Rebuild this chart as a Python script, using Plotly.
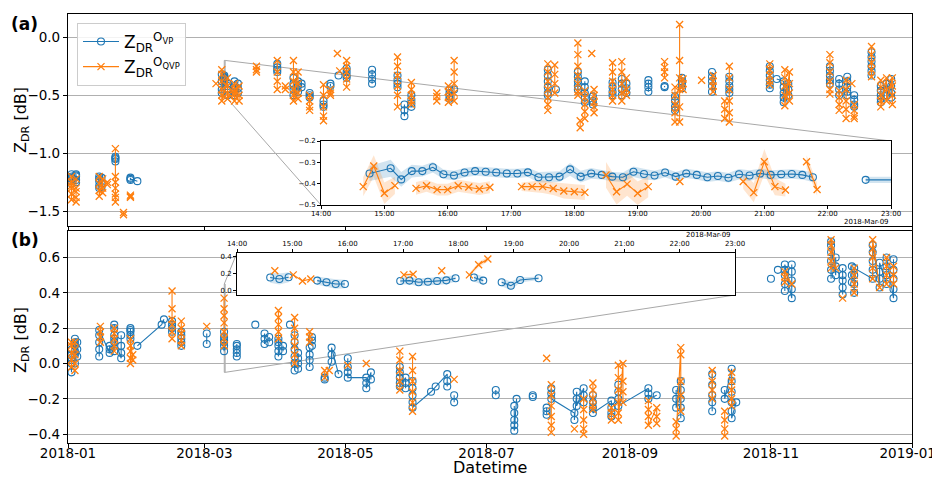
import pandas as pd
import plotly.graph_objects as go

# page body has an 8px margin: the figure is sized/placed so it fills the 940x477 window
PAGE_W, PAGE_H, OFF = 940, 477, 8
W, H = PAGE_W - OFF, PAGE_H - OFF
BLUE = "#1f77b4"
ORANGE = "#ff7f0e"
FONT = "DejaVu Sans"
YEAR0 = "2018-01-01"

# x tick labels of the main panels
month_tick_dates = ["2018-01-01", "2018-03-01", "2018-05-01", "2018-07-01", "2018-09-01",
                    "2018-11-01", "2019-01-01"]
month_tick_labels = ["2018-01", "2018-03", "2018-05", "2018-07", "2018-09", "2018-11", "2019-01"]

# ---------------- panel (a): day-of-year clusters ----------------
a_ovp_doy = [1.5, 3.5, 13.5, 14.5, 20.5, 27, 30, 66.5, 67.6, 69, 72, 73.5, 90.5, 97.5, 99.5, 101,
             104.5, 110.5, 113.5, 117, 120.5, 131.5, 142.5, 145.5, 148.5, 165, 167, 207.5, 211,
             220.5, 223.5, 227, 235.5, 239.5, 241.5, 251, 258, 262.5, 265.5, 278.5, 286, 303.5,
             306.5, 309.5, 311.5, 329.5, 333.5, 337, 340, 347.5, 351.5, 354, 356]
a_ovp_val = [[-1.18, -1.21, -1.24, -1.2, -1.26, -1.22], [-1.19, -1.23, -1.25, -1.2, -1.18],
             [-1.2, -1.24, -1.28, -1.3, -1.22], [-1.21, -1.26, -1.29], [-1.03, -1.05, -1.07, -1.04],
             [-1.21, -1.23, -1.22], [-1.24], [-0.32, -0.38, -0.45, -0.48],
             [-0.35, -0.33, -0.38, -0.34, -0.36, -0.35, -0.37], [-0.4, -0.45, -0.5, -0.42],
             [-0.38, -0.42, -0.47, -0.5, -0.45], [-0.4, -0.44, -0.48], [-0.23, -0.26, -0.3, -0.28],
             [-0.35, -0.4, -0.45, -0.5, -0.42], [-0.38, -0.42, -0.47], [-0.4, -0.43],
             [-0.48, -0.5, -0.52], [-0.55, -0.58, -0.6], [-0.4, -0.42], [-0.33],
             [-0.27, -0.3, -0.33, -0.35], [-0.28, -0.32, -0.36, -0.4], [-0.33, -0.37, -0.4, -0.43],
             [-0.58, -0.63, -0.68], [-0.5, -0.54, -0.57, -0.6], [-0.45, -0.48, -0.51, -0.53], [-0.45],
             [-0.28, -0.33, -0.38, -0.43, -0.48, -0.5], [-0.45], [-0.3, -0.34, -0.38, -0.42, -0.45],
             [-0.38, -0.43, -0.48, -0.52, -0.56], [-0.51, -0.55, -0.58], [-0.39, -0.43, -0.47, -0.5],
             [-0.36, -0.4, -0.45, -0.5], [-0.4, -0.44, -0.48], [-0.37, -0.4, -0.43, -0.47],
             [-0.43, -0.42], [-0.51, -0.55, -0.6, -0.63], [-0.35, -0.38, -0.4, -0.44],
             [-0.3, -0.34, -0.38, -0.42, -0.47], [-0.34, -0.38, -0.42, -0.45, -0.48],
             [-0.25, -0.29, -0.33, -0.37, -0.41, -0.44], [-0.36], [-0.38, -0.43, -0.48, -0.52, -0.56],
             [-0.4, -0.45, -0.5], [-0.25, -0.29, -0.33, -0.37, -0.4], [-0.36, -0.4, -0.45, -0.5],
             [-0.34, -0.38, -0.43, -0.47, -0.5], [-0.5, -0.54, -0.58, -0.6],
             [-0.13, -0.17, -0.21, -0.25, -0.29, -0.33], [-0.42, -0.46, -0.5, -0.53, -0.56],
             [-0.4, -0.45, -0.5], [-0.36, -0.42, -0.48, -0.52]]
a_ovp_join = [14.5, 30, 67.6, 69, 73.5, 99.5, 101, 309.5, 311.5, 354, 356]

a_oqvp_doy = [1.5, 3.5, 13.5, 15, 17, 20.5, 24, 27, 64, 66.5, 69, 72, 74, 81.5, 90.5, 94, 97.5, 99.5,
              104.5, 110.5, 113.5, 116.5, 117.5, 120.5, 142.5, 148.5, 159.5, 164.5, 167, 207.5,
              210.5, 220.5, 221.5, 223.5, 226.5, 227.5, 235.5, 239.5, 241.5, 258, 262.5, 264.5, 266,
              274, 279, 284, 286, 303.5, 310, 312, 329.5, 333.5, 336.5, 339, 340, 347.5, 351.5,
              354, 356.5]
a_oqvp_val = [[-1.2, -1.25, -1.3, -1.35, -1.4, -1.28], [-1.22, -1.3, -1.38, -1.42, -1.33],
              [-1.2, -1.26, -1.32, -1.37], [-1.22, -1.3, -1.34], [-1.25, -1.27],
              [-0.96, -1.2, -1.25, -1.3, -1.35, -1.42, -1.38], [-1.51, -1.53], [-1.36, -1.38, -1.37],
              [-0.4], [-0.28, -0.32, -0.38, -0.45, -0.5, -0.55], [-0.35, -0.42, -0.48, -0.53],
              [-0.4, -0.45, -0.5, -0.55, -0.48], [-0.42, -0.5, -0.55], [-0.25, -0.28, -0.3],
              [-0.2, -0.3, -0.38, -0.45], [-0.45, -0.42], [-0.2, -0.3, -0.38, -0.45, -0.5, -0.55],
              [-0.3, -0.4, -0.48, -0.53], [-0.5, -0.55, -0.6, -0.63], [-0.41, -0.5, -0.6, -0.68, -0.72],
              [-0.45, -0.48, -0.5], [-0.14], [-0.29], [-0.2, -0.25, -0.3, -0.36, -0.43],
              [-0.17, -0.25, -0.33, -0.42, -0.5, -0.6], [-0.39, -0.45, -0.5, -0.55, -0.58],
              [-0.48, -0.51, -0.55], [-0.42, -0.47, -0.52, -0.56], [-0.2, -0.3, -0.4, -0.48, -0.55],
              [-0.23, -0.3, -0.38, -0.45, -0.52, -0.58, -0.63], [-0.24, -0.32, -0.4, -0.48],
              [-0.05, -0.15, -0.25, -0.33, -0.4, -0.47, -0.5], [-0.72, -0.78],
              [-0.46, -0.52, -0.58, -0.64, -0.7], [-0.14], [-0.45, -0.5, -0.56, -0.6, -0.65],
              [-0.22, -0.3, -0.38, -0.45, -0.5, -0.55], [-0.21, -0.3, -0.4, -0.48, -0.55],
              [-0.35, -0.45, -0.5], [-0.21, -0.26, -0.3, -0.35], [-0.43, -0.5, -0.58, -0.65, -0.73],
              [0.11, -0.2, -0.35, -0.45, -0.6, -0.73], [-0.36, -0.4, -0.45], [-0.37],
              [-0.33, -0.38, -0.42, -0.47], [-0.55, -0.62, -0.7], [-0.25, -0.35, -0.45, -0.55, -0.65, -0.73],
              [-0.23, -0.28, -0.33, -0.38, -0.41], [-0.28, -0.35, -0.42, -0.5, -0.59],
              [-0.3, -0.4, -0.48, -0.55], [-0.15, -0.22, -0.3, -0.38, -0.45, -0.49],
              [-0.46, -0.52, -0.58, -0.63], [-0.37, -0.45, -0.55, -0.62, -0.7], [-0.4],
              [-0.58, -0.63, -0.68, -0.7], [-0.08, -0.15, -0.22, -0.28, -0.34],
              [-0.37, -0.43, -0.5, -0.55, -0.6], [-0.35, -0.45, -0.55], [-0.35, -0.42, -0.5, -0.58]]
a_oqvp_join = [15, 69, 72, 74, 99.5, 312, 354, 356.5]

# ---------------- panel (b): day-of-year clusters ----------------
b_ovp_doy = [1.5, 3, 4, 13.5, 18, 20, 23, 27, 30, 40.5, 41.5, 45, 49, 60, 67.5, 73, 81, 85, 87, 91,
             93, 96, 98, 99.5, 104.5, 105.5, 111, 114, 117, 121, 129, 131, 143.5, 146, 149, 157, 159,
             164, 167, 185, 193, 194, 201, 207, 209, 219, 220, 223, 227, 235, 238, 251, 254.6, 263,
             265, 278.6, 284, 287, 289, 304, 307, 310, 313, 330, 332, 335, 339, 340, 348, 351, 354,
             357]
b_ovp_val = [[-0.05, 0.0, 0.05, 0.02, 0.08, 0.03], [0.0, 0.05, 0.1, 0.14, 0.07, 0.12], [0.04, 0.08, 0.12],
             [0.04, 0.08, 0.12, 0.16, 0.19], [0.06, 0.08, 0.1], [0.07, 0.12, 0.16, 0.2, 0.22, 0.14],
             [0.03, 0.06, 0.1, 0.16], [0.14, 0.16, 0.18, 0.2, 0.19], [0.1], [0.22], [0.25],
             [0.18, 0.2, 0.22, 0.24], [0.1, 0.12, 0.14, 0.16, 0.18], [0.11, 0.17],
             [0.07, 0.1, 0.13, 0.15, 0.18, 0.12], [0.04, 0.06, 0.08, 0.1, 0.11], [0.22],
             [0.11, 0.14, 0.17], [0.12, 0.15], [0.04, 0.07, 0.1, 0.12, 0.14], [0.1, 0.07], [0.22],
             [-0.04, 0.0, 0.04, 0.08, 0.12, 0.16], [-0.03, 0.0, 0.03, 0.06], [-0.02, 0.02, 0.05, 0.09],
             [0.1, 0.13, 0.15], [-0.08, -0.09], [0.01, 0.05, 0.09], [-0.06], [0.03, -0.02, -0.05, -0.08],
             [-0.08, -0.11, -0.14], [-0.05, -0.09], [-0.02, -0.05, -0.08, -0.11, -0.13],
             [-0.08, -0.11, -0.14], [-0.1, -0.14, -0.18, -0.22, -0.25], [-0.16], [-0.13],
             [-0.06, -0.1, -0.13], [-0.18, -0.22], [-0.15, -0.18], [-0.24, -0.28, -0.32, -0.35, -0.38],
             [-0.2], [-0.18, -0.19], [-0.25, -0.27, -0.29], [-0.14, -0.17, -0.2], [-0.28, -0.32],
             [-0.16, -0.2, -0.24], [-0.14, -0.18, -0.22], [-0.18, -0.22, -0.25, -0.28],
             [-0.21, -0.25, -0.28, -0.3], [-0.12, -0.16, -0.2, -0.24], [-0.14, -0.17, -0.2], [-0.18],
             [-0.15, -0.2, -0.25], [-0.1, -0.15, -0.2, -0.25, -0.31], [-0.06, -0.12, -0.18, -0.22, -0.27],
             [-0.15, -0.2], [-0.03, -0.1, -0.16, -0.22, -0.27, -0.31], [-0.22], [0.48], [0.53],
             [0.41, 0.45, 0.5, 0.53, 0.56], [0.37, 0.42, 0.47, 0.52, 0.56],
             [0.48, 0.53, 0.58, 0.63, 0.67, 0.69], [0.5, 0.55, 0.6], [0.39, 0.43, 0.47, 0.5, 0.54],
             [0.46, 0.5, 0.55], [0.4, 0.45, 0.5, 0.54], [0.48, 0.53, 0.58, 0.63, 0.67],
             [0.43, 0.48, 0.52, 0.57], [0.45, 0.5, 0.55, 0.6], [0.37, 0.42, 0.48, 0.53, 0.59]]
b_ovp_join = [4, 18, 20, 23, 40.5, 41.5, 114, 117, 129, 131, 146, 157, 159, 164, 194, 219, 220, 223,
              235, 251, 254.6, 265, 287, 289, 313, 332, 348, 351, 354, 357]

b_oqvp_doy = [1.5, 3, 14, 20, 27, 28, 45, 49, 60, 67.5, 91, 98, 104.5, 111, 113, 121, 129, 143.5, 149,
              167, 207, 209, 219, 223, 227, 235, 238, 240, 251, 254.6, 263, 265, 278.6, 284, 287, 310,
              313, 330, 332, 335, 340, 348, 351, 354, 357]
b_oqvp_val = [[-0.02, 0.02, 0.06, 0.1, 0.12], [-0.04, 0.0, 0.05, 0.08, 0.12], [0.12, 0.15, 0.18, 0.21],
              [0.07, 0.1, 0.14, 0.17, 0.2], [0.0, 0.03, 0.07, 0.1, 0.14], [0.02, 0.05],
              [0.14, 0.18, 0.22, 0.25, 0.31, 0.41], [0.1, 0.13, 0.17, 0.2, 0.24], [0.21],
              [0.1, 0.14, 0.18, 0.23, 0.27, 0.31, 0.37], [0.14, 0.18, 0.22, 0.26, 0.3],
              [0.0, 0.05, 0.1, 0.15, 0.2, 0.26], [0.12, 0.15, 0.18], [-0.04, -0.08], [-0.04], [-0.01],
              [0.0], [0.07, 0.02, -0.04, -0.1, -0.15], [0.04, -0.04, -0.1, -0.16, -0.22, -0.27], [-0.09],
              [0.03], [-0.12, -0.18, -0.24, -0.3, -0.35, -0.39], [-0.37], [-0.2, -0.26, -0.32, -0.37, -0.4],
              [-0.11, -0.15, -0.2, -0.24, -0.26], [-0.25, -0.28, -0.32],
              [-0.01, -0.08, -0.15, -0.22, -0.28, -0.32], [0.0, -0.1, -0.16, -0.22],
              [-0.21, -0.26, -0.3, -0.35], [-0.25, -0.3, -0.34], [-0.33, -0.37, -0.41],
              [0.09, 0.05, -0.1, -0.18, -0.27], [-0.04, -0.1, -0.15, -0.2], [-0.27, -0.32, -0.37, -0.41],
              [-0.05, -0.1, -0.15, -0.2, -0.24], [0.46, 0.49, 0.52], [0.45],
              [0.54, 0.58, 0.63, 0.67, 0.7], [0.54], [0.37], [0.4, 0.45, 0.5, 0.54],
              [0.48, 0.54, 0.6, 0.65, 0.7], [0.43], [0.45, 0.5, 0.55, 0.6], [0.45, 0.5, 0.55]]
b_oqvp_join = [28, 240, 254.6, 265, 313, 332, 351]

# ---------------- insets: 2018-03-09, minutes after 14:00 ----------------
INSET_DAY = "2018-03-09 14:00"
a_ins_ovp_min = [46, 66, 76, 86, 96, 106, 116, 126, 136, 146, 156, 166, 176, 186, 196, 206, 216, 226,
                 236, 246, 256, 266, 276, 286, 296, 306, 316, 326, 336, 346, 356, 366, 376, 386, 396,
                 406, 416, 426, 436, 446, 456, 466, 490, 516, 546]
a_ins_ovp_val = [-0.352, -0.328, -0.380, -0.341, -0.341, -0.323, -0.356, -0.362, -0.348, -0.341,
                 -0.344, -0.348, -0.352, -0.352, -0.347, -0.370, -0.370, -0.367, -0.333, -0.367,
                 -0.352, -0.359, -0.367, -0.370, -0.344, -0.355, -0.362, -0.348, -0.367, -0.352,
                 -0.359, -0.370, -0.364, -0.372, -0.356, -0.362, -0.352, -0.359, -0.356, -0.355,
                 -0.359, -0.370, None, -0.382, -0.382]
a_ins_ovp_sd = [0.035, 0.04, 0.035, 0.03, 0.025, 0.025, 0.022, 0.022, 0.022, 0.022, 0.022, 0.022,
                0.022, 0.022, 0.022, 0.025, 0.025, 0.025, 0.03, 0.028, 0.025, 0.022, 0.022, 0.022,
                0.025, 0.025, 0.022, 0.022, 0.022, 0.022, 0.022, 0.022, 0.022, 0.022, 0.025, 0.025,
                0.022, 0.022, 0.022, 0.022, 0.022, 0.022, 0, 0.015, 0.015]
a_ins_oqvp_min = [40, 50, 60, 70, 80, 90, 100, 110, 120, 130, 140, 150, 160, 175, 190, 200, 210, 220,
                  230, 240, 250, 260, 270, 280, 290, 300, 310, 325, 340, 370, 400, 410, 420, 430, 440,
                  450, 460, 470]
a_ins_oqvp_val = [-0.414, -0.317, -0.445, -0.409, None, -0.422, -0.410, -0.428, -0.428, -0.410,
                  -0.416, -0.425, -0.417, None, -0.414, -0.414, -0.414, -0.423, -0.434, -0.438,
                  -0.441, None, -0.359, -0.438, -0.402, -0.445, -0.414, None, -0.390, None, -0.390,
                  -0.442, -0.297, -0.414, -0.430, None, -0.297, -0.427]
a_ins_oqvp_sd = [0.045, 0.05, 0.05, 0.04, 0, 0.03, 0.028, 0.028, 0.028, 0.028, 0.028, 0.028, 0.028,
                 0, 0.02, 0.025, 0.03, 0.03, 0.035, 0.035, 0.035, 0, 0.06, 0.06, 0.055, 0.055, 0.05,
                 0, 0, 0, 0.035, 0.045, 0.06, 0.04, 0.03, 0, 0.03, 0.03]

b_ins_ovp_min = [36, 46, 56, 70, 87, 97, 107, 117, 150, 177, 187, 197, 207, 217, 227, 237, 247, 257,
                 267, 277, 287, 297, 307, 327]
b_ins_ovp_val = [0.156, 0.140, 0.160, None, 0.120, 0.100, 0.080, 0.080, None, 0.116, 0.120, 0.100,
                 0.107, 0.116, 0.123, 0.148, None, 0.156, 0.120, None, 0.100, 0.060, 0.128, 0.148]
b_ins_ovp_sd = [0.06, 0.065, 0.06, 0, 0.05, 0.055, 0.055, 0.05, 0, 0.04, 0.045, 0.045, 0.045, 0.045,
                0.045, 0.04, 0, 0.05, 0.05, 0, 0.05, 0.05, 0.03, 0.02]
b_ins_oqvp_min = [41, 50, 61, 71, 80, 130, 181, 191, 205, 222, 240, 252, 262, 272]
b_ins_oqvp_val = [0.236, None, 0.188, 0.116, 0.140, None, 0.188, 0.196, None, 0.236, None, 0.188,
                  0.308, 0.376]
b_ins_oqvp_sd = [0, 0, 0.01, 0.01, 0.01, 0, 0.015, 0.015, 0, 0, 0, 0.02, 0.03, 0.03]

NAME_OVP = "Z<sub>DR</sub><sup>O<sub>VP</sub></sup>"
NAME_OQVP = "Z<sub>DR</sub><sup>O<sub>QVP</sub></sup>"

# ---------------- layout geometry (window pixels -> paper) ----------------
def px_x(p):
    return (p - OFF) / W


def px_y(p):
    return 1 - (p - OFF) / H


MAIN_X = [px_x(68), px_x(912)]
A_DOM = [px_y(225.5), px_y(14)]
B_DOM = [px_y(443), px_y(231)]
A_RNG = [-1.622, 0.2]
B_RNG = [-0.45, 0.75]
IA_X = [px_x(321), px_x(891)]
IA_Y = [px_y(205), px_y(141)]
IB_X = [px_x(237), px_x(735)]
IB_Y = [px_y(295), px_y(252.7)]
IA_RNG = [-0.5, -0.2]
IB_RNG = [-0.05, 0.45]

T0 = pd.Timestamp(YEAR0)
T1 = pd.Timestamp("2019-01-01")
TI0 = pd.Timestamp(INSET_DAY)
TI1 = TI0 + pd.Timedelta(hours=9)


def build(doys, vals, joins):
    xs, ys = [], []
    for i, (d, vs) in enumerate(zip(doys, vals)):
        if i > 0 and d not in joins:
            xs.append(None)
            ys.append(None)
        t = T0 + pd.Timedelta(days=d)
        for v in vs:
            xs.append(t)
            ys.append(v)
    return xs, ys


def inset_t(mins):
    return [TI0 + pd.Timedelta(minutes=m) for m in mins]


def band_traces(mins, vals, sds, color, xa, ya):
    out = []
    seg = []
    for m, v, s in list(zip(mins, vals, sds)) + [(None, None, None)]:
        if v is None:
            if len(seg) >= 2:
                ts = inset_t([q[0] for q in seg])
                up = [q[1] + q[2] for q in seg]
                lo = [q[1] - q[2] for q in seg]
                out.append(go.Scatter(x=ts + ts[::-1], y=up + lo[::-1], fill="toself",
                                      fillcolor=color, mode="lines", line=dict(width=0),
                                      hoverinfo="skip", showlegend=False, xaxis=xa, yaxis=ya))
            seg = []
        else:
            seg.append((m, v, s))
    return out


fig = go.Figure()

mk_ovp = dict(symbol="circle-open", size=7, color=BLUE, line=dict(width=1.1, color=BLUE))
mk_oqvp = dict(symbol="x-thin", size=7, color=ORANGE, line=dict(width=1.3, color=ORANGE))

for (doys, vals, joins, mk, col, name, xa, ya, leg) in [
    (a_ovp_doy, a_ovp_val, a_ovp_join, mk_ovp, BLUE, NAME_OVP, "x", "y", True),
    (a_oqvp_doy, a_oqvp_val, a_oqvp_join, mk_oqvp, ORANGE, NAME_OQVP, "x", "y", True),
    (b_ovp_doy, b_ovp_val, b_ovp_join, mk_ovp, BLUE, NAME_OVP, "x2", "y2", False),
    (b_oqvp_doy, b_oqvp_val, b_oqvp_join, mk_oqvp, ORANGE, NAME_OQVP, "x2", "y2", False),
]:
    xs, ys = build(doys, vals, joins)
    fig.add_trace(go.Scatter(x=xs, y=ys, mode="lines+markers", marker=mk,
                             line=dict(color=col, width=1.1), name=name, showlegend=leg,
                             xaxis=xa, yaxis=ya))

# insets: white background, bands, series
for xa, ya, rng, ovp, oqvp in [
    ("x3", "y3", IA_RNG, (a_ins_ovp_min, a_ins_ovp_val, a_ins_ovp_sd),
     (a_ins_oqvp_min, a_ins_oqvp_val, a_ins_oqvp_sd)),
    ("x4", "y4", IB_RNG, (b_ins_ovp_min, b_ins_ovp_val, b_ins_ovp_sd),
     (b_ins_oqvp_min, b_ins_oqvp_val, b_ins_oqvp_sd)),
]:
    fig.add_trace(go.Scatter(x=[TI0, TI1, TI1, TI0], y=[rng[0], rng[0], rng[1], rng[1]],
                             fill="toself", fillcolor="white", mode="lines",
                             line=dict(width=0, color="white"), hoverinfo="skip",
                             showlegend=False, xaxis=xa, yaxis=ya))
    for tr in band_traces(*ovp, "rgba(31,119,180,0.2)", xa, ya):
        fig.add_trace(tr)
    for tr in band_traces(*oqvp, "rgba(255,127,14,0.2)", xa, ya):
        fig.add_trace(tr)
    fig.add_trace(go.Scatter(x=inset_t(ovp[0]), y=ovp[1], mode="lines+markers", marker=mk_ovp,
                             line=dict(color=BLUE, width=1.1), showlegend=False,
                             xaxis=xa, yaxis=ya))
    fig.add_trace(go.Scatter(x=inset_t(oqvp[0]), y=oqvp[1], mode="lines+markers", marker=mk_oqvp,
                             line=dict(color=ORANGE, width=1.1), showlegend=False,
                             xaxis=xa, yaxis=ya))

month_ticks = pd.to_datetime(month_tick_dates)
# the last label sits on the window's right edge; trailing spaces keep it fully visible
month_text = month_tick_labels[:-1] + [month_tick_labels[-1] + "&nbsp;&nbsp;"]
hour_ticks = pd.date_range(TI0, TI1, freq="1h")

ax_common = dict(showline=True, mirror=True, linecolor="black", linewidth=1.2, ticks="outside",
                 ticklen=4, tickcolor="black", zeroline=False, automargin=False,
                 ticklabeloverflow="allow")
ins_common = dict(showline=True, mirror=True, linecolor="black", linewidth=1, ticks="outside",
                  ticklen=3, tickcolor="black", zeroline=False, showgrid=False, automargin=False,
                  ticklabeloverflow="allow", tickfont=dict(size=7, color="black"))
YTF = dict(size=13.5, color="black")
XTF = dict(size=13.5, color="black")

fig.update_layout(
    width=W, height=H, margin=dict(l=0, r=0, t=0, b=0, autoexpand=False),
    paper_bgcolor="white", plot_bgcolor="white",
    font=dict(family=FONT, color="black"),
    xaxis=dict(domain=MAIN_X, anchor="y", type="date", range=[T0, T1], tickvals=month_ticks,
               showticklabels=False, showgrid=False, tickfont=XTF, **ax_common),
    yaxis=dict(domain=A_DOM, anchor="x", range=A_RNG, tickvals=[-1.5, -1.0, -0.5, 0.0],
               tickformat=".1f", showgrid=True, gridcolor="#b0b0b0", gridwidth=1,
               tickfont=YTF, **ax_common),
    xaxis2=dict(domain=MAIN_X, anchor="y2", type="date", range=[T0, T1], tickvals=month_ticks,
                ticktext=month_text, showgrid=False, ticklabelstandoff=-6, tickfont=XTF,
                **ax_common),
    yaxis2=dict(domain=B_DOM, anchor="x2", range=B_RNG, tickvals=[-0.4, -0.2, 0.0, 0.2, 0.4, 0.6],
                tickformat=".1f", showgrid=True, gridcolor="#b0b0b0", gridwidth=1,
                tickfont=YTF, **ax_common),
    xaxis3=dict(domain=IA_X, anchor="y3", type="date", range=[TI0, TI1], tickvals=hour_ticks,
                tickformat="%H:%M", ticklabelstandoff=-1, **ins_common),
    yaxis3=dict(domain=IA_Y, anchor="x3", range=IA_RNG, tickvals=[-0.5, -0.4, -0.3, -0.2],
                tickformat=".1f", **ins_common),
    xaxis4=dict(domain=IB_X, anchor="y4", type="date", range=[TI0, TI1], tickvals=hour_ticks,
                tickformat="%H:%M", side="top", **ins_common),
    yaxis4=dict(domain=IB_Y, anchor="x4", range=IB_RNG, tickvals=[0.0, 0.2, 0.4],
                tickformat=".1f", **ins_common),
    legend=dict(x=px_x(77), y=px_y(23), xanchor="left", yanchor="top",
                bgcolor="rgba(255,255,255,0.85)", bordercolor="#cccccc", borderwidth=1,
                font=dict(size=17, family=FONT, color="black"), tracegroupgap=4,
                itemwidth=36),
)


def xp(t):
    return MAIN_X[0] + (t - T0) / (T1 - T0) * (MAIN_X[1] - MAIN_X[0])


def yp(v, dom, rng):
    return dom[0] + (v - rng[0]) / (rng[1] - rng[0]) * (dom[1] - dom[0])


GRAY = "#a8a8a8"
shapes = [
    dict(type="rect", xref="x", yref="y", x0=TI0, x1=TI1, y0=IA_RNG[0], y1=IA_RNG[1],
         line=dict(color=GRAY, width=1), layer="below"),
    dict(type="rect", xref="x2", yref="y2", x0=TI0, x1=TI1, y0=IB_RNG[0], y1=IB_RNG[1],
         line=dict(color=GRAY, width=1), layer="below"),
    dict(type="line", xref="paper", yref="paper", x0=xp(TI1), y0=yp(IA_RNG[1], A_DOM, A_RNG),
         x1=IA_X[1], y1=IA_Y[1], line=dict(color=GRAY, width=1), layer="below"),
    dict(type="line", xref="paper", yref="paper", x0=xp(TI0), y0=yp(IA_RNG[0], A_DOM, A_RNG),
         x1=IA_X[0], y1=IA_Y[0], line=dict(color=GRAY, width=1), layer="below"),
    dict(type="line", xref="paper", yref="paper", x0=xp(TI0), y0=yp(IB_RNG[1], B_DOM, B_RNG),
         x1=IB_X[0], y1=IB_Y[1], line=dict(color=GRAY, width=1), layer="below"),
    dict(type="line", xref="paper", yref="paper", x0=xp(TI1), y0=yp(IB_RNG[0], B_DOM, B_RNG),
         x1=IB_X[1], y1=IB_Y[0], line=dict(color=GRAY, width=1), layer="below"),
]
fig.update_layout(shapes=shapes)

ann = [
    dict(text="<b>(a)</b>", x=px_x(9), y=px_y(24), xanchor="left", yanchor="middle",
         font=dict(size=17)),
    dict(text="<b>(b)</b>", x=px_x(9), y=px_y(240), xanchor="left", yanchor="middle",
         font=dict(size=17)),
    dict(text="Z<sub>DR</sub> [dB]", x=px_x(21), y=px_y(120), textangle=-90, xanchor="center",
         yanchor="middle", font=dict(size=16)),
    dict(text="Z<sub>DR</sub> [dB]", x=px_x(21), y=px_y(340), textangle=-90, xanchor="center",
         yanchor="middle", font=dict(size=16)),
    dict(text="Datetime", x=px_x(490), y=px_y(467.5), xanchor="center", yanchor="middle",
         font=dict(size=16)),
    dict(text="2018-Mar-09", x=px_x(891), y=px_y(221.5), xanchor="right", yanchor="middle",
         font=dict(size=7)),
    dict(text="2018-Mar-09", x=px_x(733), y=px_y(235), xanchor="right", yanchor="middle",
         font=dict(size=7)),
]
for a in ann:
    a.update(xref="paper", yref="paper", showarrow=False)
    a["font"].update(family=FONT, color="black")
fig.update_layout(annotations=ann)

fig.write_html("out.html")
